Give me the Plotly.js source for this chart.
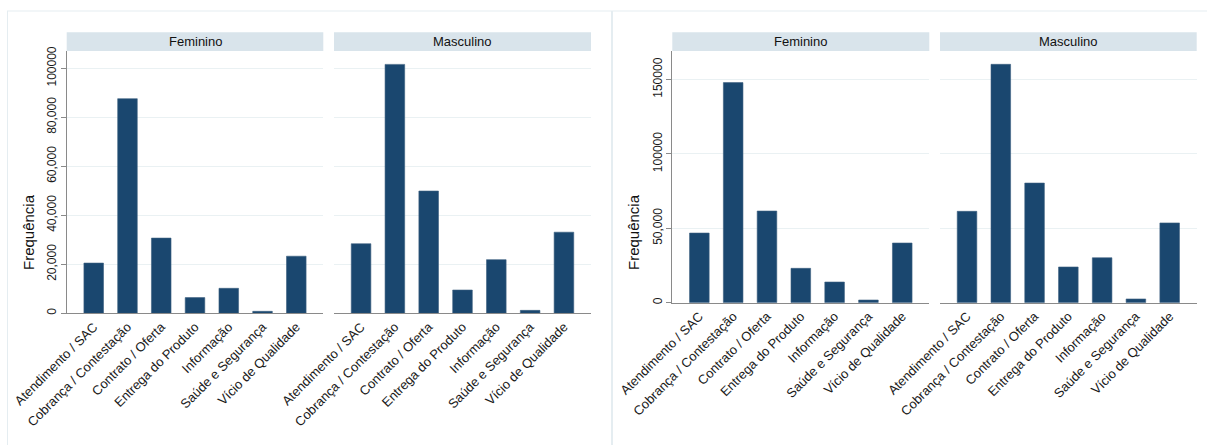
<!DOCTYPE html>
<html>
<head>
<meta charset="utf-8">
<script src="https://cdn.plot.ly/plotly-3.0.1.min.js"></script>
<style>html,body{margin:0;padding:0;background:#fff;}#chart{width:1207px;height:445px;}</style>
</head>
<body>
<div id="chart"></div>
<script>
const categories = ['Atendimento / SAC','Cobrança / Contestação','Contrato / Oferta','Entrega do Produto','Informação','Saúde e Segurança','Vício de Qualidade'];
const panelLabels = ['Feminino','Masculino'];
const leftFeminino = [20500, 87600, 30700, 6400, 10200, 800, 23300];
const leftMasculino = [28400, 101600, 49900, 9500, 21900, 1200, 33100];
const rightFeminino = [46800, 147900, 61600, 23100, 13900, 1800, 40100];
const rightMasculino = [61400, 160200, 80400, 24000, 30200, 2500, 53600];
const leftTickVals = [0, 20000, 40000, 60000, 80000, 100000];
const leftTickText = ['0','20,000','40,000','60,000','80,000','100000'];
const rightTickVals = [0, 50000, 100000, 150000];
const rightTickText = ['0','50,000','100000','150000'];
const yTitle = 'Frequência';

const W = 1207, H = 445;
const px = v => v / W;
const py = v => (H - v) / H;
const FONT = 'Liberation Sans, Arial, sans-serif';
const barColor = '#1a476f';
const gridColor = '#eaf1f3';
const axisColor = '#8a8a8a';
const stripColor = '#d9e4eb';

const series = [leftFeminino, leftMasculino, rightFeminino, rightMasculino];
const axIds = ['', '2', '3', '4'];
const traces = series.map((s, i) => ({
  type: 'bar', x: categories, y: s, width: 0.58,
  xaxis: 'x' + axIds[i], yaxis: 'y' + axIds[i],
  marker: {color: barColor, line: {color: '#3d5f80', width: 0.6}},
  hoverinfo: 'x+y', showlegend: false
}));

const panels = [
  {x0: 66.7, x1: 323.3, y0: 51, y1: 313.3},
  {x0: 334, x1: 591, y0: 51, y1: 313.3},
  {x0: 672.3, x1: 929.3, y0: 51, y1: 302.7},
  {x0: 940, x1: 1196.7, y0: 51, y1: 302.7}
];
const yRanges = [107060, 107060, 169150, 169150];

const layout = {
  width: W, height: H,
  margin: {l: 0, r: 0, t: 0, b: 0},
  paper_bgcolor: '#ffffff', plot_bgcolor: '#ffffff',
  font: {family: FONT, size: 12, color: '#222'},
  showlegend: false,
  bargap: 0,
  shapes: [], annotations: []
};

panels.forEach((p, i) => {
  const id = axIds[i];
  const isLeft = (i % 2 === 0);
  const tv = i < 2 ? leftTickVals : rightTickVals;
  const tt = i < 2 ? leftTickText : rightTickText;
  layout['xaxis' + id] = {
    domain: [px(p.x0), px(p.x1)],
    anchor: 'y' + id,
    type: 'category',
    range: [-0.8, 6.8],
    tickangle: -45,
    tickfont: {family: FONT, size: 13, color: '#1a1a1a'},
    showline: true, linecolor: axisColor, linewidth: 1,
    ticks: '', showgrid: false, zeroline: false,
    automargin: false, fixedrange: true
  };
  layout['yaxis' + id] = {
    domain: [py(p.y1), py(p.y0)],
    anchor: 'x' + id,
    range: [0, yRanges[i]],
    tickvals: tv, ticktext: tt,
    showticklabels: isLeft,
    tickangle: -90,
    tickfont: {family: FONT, size: 12, color: '#1a1a1a'},
    ticks: isLeft ? 'outside' : '', ticklen: 5, tickcolor: axisColor,
    showline: isLeft, linecolor: axisColor, linewidth: 1,
    showgrid: true, gridcolor: gridColor, gridwidth: 1,
    zeroline: false, automargin: false, fixedrange: true
  };
  // strip
  layout.shapes.push({type: 'rect', xref: 'paper', yref: 'paper',
    x0: px(p.x0), x1: px(p.x1), y0: py(51), y1: py(32.3),
    fillcolor: stripColor, line: {width: 0}, layer: 'below'});
  layout.annotations.push({xref: 'paper', yref: 'paper',
    x: (px(p.x0) + px(p.x1)) / 2, y: py(41.6), xanchor: 'center', yanchor: 'middle',
    text: panelLabels[i % 2], showarrow: false,
    font: {family: FONT, size: 13, color: '#111'}});
});

// y titles
[28.5, 633.5].forEach(xp => {
  layout.annotations.push({xref: 'paper', yref: 'paper',
    x: px(xp), y: py(232.5), xanchor: 'center', yanchor: 'middle',
    text: yTitle, textangle: -90, showarrow: false,
    font: {family: FONT, size: 15, color: '#111'}});
});

// graph frames
const frameColor = '#e5edf1';
layout.shapes.push({type: 'line', xref: 'paper', yref: 'paper', x0: px(7), x1: 1, y0: py(11), y1: py(11), line: {color: frameColor, width: 1}});
layout.shapes.push({type: 'line', xref: 'paper', yref: 'paper', x0: px(7.5), x1: px(7.5), y0: py(11), y1: 0, line: {color: frameColor, width: 1}});
layout.shapes.push({type: 'line', xref: 'paper', yref: 'paper', x0: px(612), x1: px(612), y0: py(11), y1: 0, line: {color: frameColor, width: 2}});

Plotly.newPlot('chart', traces, layout, {displayModeBar: false, staticPlot: true});
</script>
</body>
</html>
